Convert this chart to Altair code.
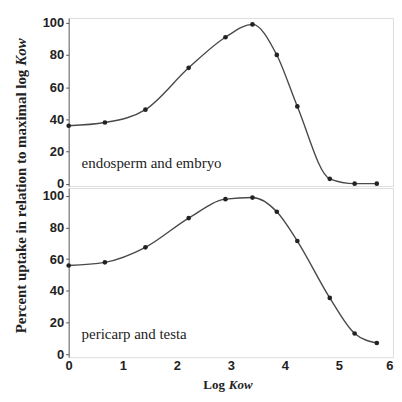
import altair as alt
import pandas as pd

# Data
logkow = [0.0, 0.67, 1.42, 2.22, 2.9, 3.4, 3.85, 4.23, 4.83, 5.29, 5.70]
endosperm = [36, 38, 46, 72, 91, 99, 80, 48, 3, 0, 0]
pericarp = [56, 58, 67.5, 86, 98, 99, 90, 71.5, 35.5, 13, 7]
y_ticks = [0, 20, 40, 60, 80, 100]
x_ticks = [0, 1, 2, 3, 4, 5, 6]

df_top = pd.DataFrame({"x": logkow, "y": endosperm})
df_bot = pd.DataFrame({"x": logkow, "y": pericarp})

W = 326
SERIF = "Liberation Serif"
SANS = "Liberation Sans"
LINE = "#4a4a4a"


def panel(df, ydomain, height, label, label_y, show_x):
    xaxis = alt.Axis(
        values=x_ticks, labels=show_x, ticks=False, title=None,
        grid=False, labelFont=SANS, labelFontSize=13, labelFontWeight="bold",
        labelColor="#222", labelPadding=2, domain=False, labelFlush=False,
        labelAlign={"expr": "datum.value == 6 ? 'right' : 'center'"},
    )
    yaxis = alt.Axis(
        values=y_ticks, title=None, grid=False, labelFont=SANS, labelFontSize=13,
        labelFontWeight="bold", labelColor="#222", tickSize=3, tickColor="#555",
        domainColor="#666", labelPadding=2,
    )
    x = alt.X("x:Q", scale=alt.Scale(domain=[0, 6], nice=False), axis=xaxis)
    y = alt.Y("y:Q", scale=alt.Scale(domain=ydomain, nice=False), axis=yaxis)
    base = alt.Chart(df)
    line = base.mark_line(interpolate="monotone", color=LINE, strokeWidth=1.4).encode(x=x, y=y)
    pts = base.mark_point(filled=True, size=22, color="#222", opacity=1).encode(x=x, y=y)
    txt = alt.Chart(pd.DataFrame({"t": [label]})).mark_text(
        font=SERIF, fontSize=15, align="left", baseline="alphabetic", color="#222"
    ).encode(text="t:N", x=alt.value(13), y=alt.value(label_y))
    return alt.layer(line, pts, txt).properties(width=W, height=height)


top = panel(df_top, [-1.5, 103], 169, "endosperm and embryo", 151, False)
bottom = panel(df_bot, [-2, 105], 170, "pericarp and testa", 152, True)


def two_part(a, b, angle, x, y, size, gap=4):
    base_line = "middle" if angle else "alphabetic"
    p1 = alt.Chart(pd.DataFrame({"t": [a]})).mark_text(
        font=SERIF, fontSize=size, fontWeight="bold", angle=angle, align="right",
        baseline=base_line, color="#222"
    ).encode(text="t:N", x=alt.value(x), y=alt.value(y))
    x2 = x if angle else x + gap
    y2 = y - gap if angle else y
    p2 = alt.Chart(pd.DataFrame({"t": [b]})).mark_text(
        font=SERIF, fontSize=size, fontWeight="bold", fontStyle="italic", angle=angle,
        align="left", baseline=base_line, color="#222"
    ).encode(text="t:N", x=alt.value(x2), y=alt.value(y2))
    return p1, p2


# y title spanning both panels (with italic Kow)
t1, t2 = two_part("Percent uptake in relation to maximal log", "Kow", 270, -48, 52, 15)
top = alt.layer(top, t1, t2)

# x title "Log Kow"
x1, x2 = two_part("Log", "Kow", 0, W / 2 - 6, 202, 13)
bottom = alt.layer(bottom, x1, x2)

chart = alt.vconcat(top, bottom, spacing=2, bounds="flush").properties(
    padding={"left": 5, "top": 7, "right": 0, "bottom": 0}
).configure_view(stroke="#cccccc", strokeWidth=1.5).configure(background="white")

chart.save("out.html", embed_options={"renderer": "svg", "actions": False})
